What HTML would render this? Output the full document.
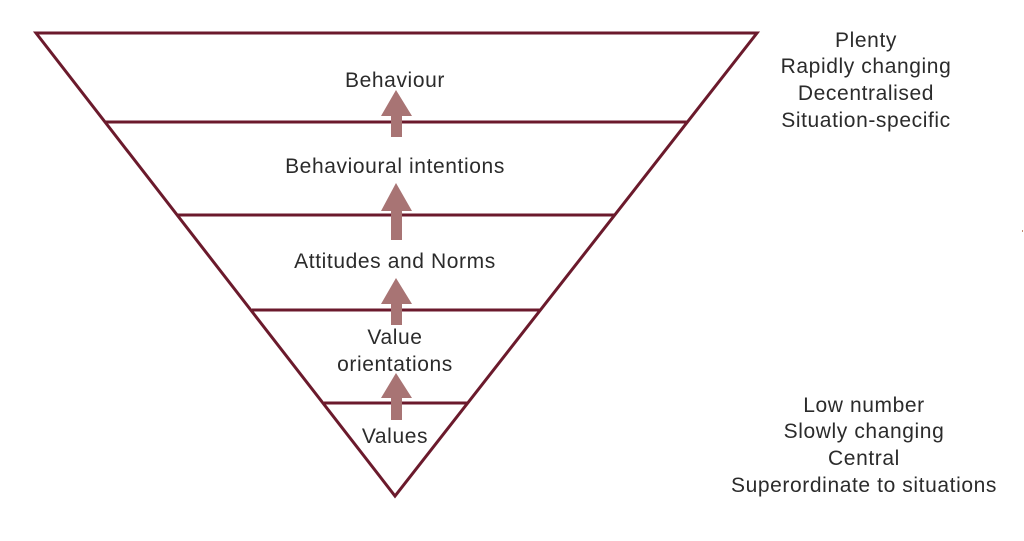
<!DOCTYPE html>
<html>
<head>
<meta charset="utf-8">
<style>
  html,body{margin:0;padding:0;background:#fff;}
  svg{display:block;}
  text{font-family:"Liberation Sans", sans-serif;font-size:21px;fill:#2b2b2b;letter-spacing:0.6px;}
</style>
</head>
<body>
<svg width="1024" height="541" viewBox="0 0 1024 541" xmlns="http://www.w3.org/2000/svg">
  <rect width="1024" height="541" fill="#fff"/>
  <!-- triangle -->
  <polygon points="36,33 757,33 395,496" fill="none" stroke="#6b1a2c" stroke-width="3" stroke-linejoin="miter"/>
  <!-- horizontal bands -->
  <line x1="105" y1="122" x2="688" y2="122" stroke="#6b1a2c" stroke-width="3"/>
  <line x1="178" y1="215" x2="614" y2="215" stroke="#6b1a2c" stroke-width="3"/>
  <line x1="252" y1="310" x2="540" y2="310" stroke="#6b1a2c" stroke-width="3"/>
  <line x1="324" y1="403" x2="467" y2="403" stroke="#6b1a2c" stroke-width="3"/>

  <!-- arrows -->
  <g fill="#a87474">
    <polygon points="396,90 412,116 402,116 402,137 391,137 391,116 381,116"/>
    <polygon points="396,183 412,211 402,211 402,240 391,240 391,211 381,211"/>
    <polygon points="396,278 412,304 402,304 402,325 391,325 391,304 381,304"/>
    <polygon points="396,373 412,398 402,398 402,420 391,420 391,398 381,398"/>
  </g>

  <!-- labels inside -->
  <g text-anchor="middle">
    <text x="395" y="87">Behaviour</text>
    <text x="395" y="173">Behavioural intentions</text>
    <text x="395" y="268">Attitudes and Norms</text>
    <text x="395" y="344">Value</text>
    <text x="395" y="371">orientations</text>
    <text x="395" y="443">Values</text>
  </g>

  <!-- right top -->
  <g text-anchor="middle">
    <text x="866" y="47">Plenty</text>
    <text x="866" y="73">Rapidly changing</text>
    <text x="866" y="100">Decentralised</text>
    <text x="866" y="127">Situation-specific</text>
  </g>
  <!-- right bottom -->
  <g text-anchor="middle">
    <text x="864" y="412">Low number</text>
    <text x="864" y="438">Slowly changing</text>
    <text x="864" y="465">Central</text>
    <text x="864" y="492">Superordinate to situations</text>
  </g>
  <rect x="1022" y="230" width="1" height="2" fill="#c08a70"/>
</svg>
</body>
</html>
